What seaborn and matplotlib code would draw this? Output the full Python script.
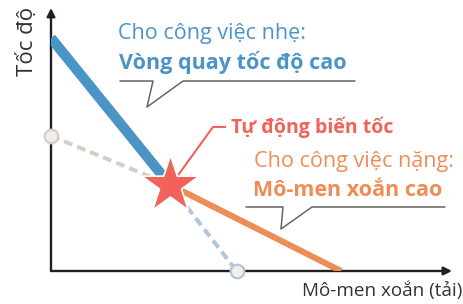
import matplotlib
matplotlib.use("Agg")
import matplotlib.pyplot as plt
import seaborn as sns

# chart data (torque on x, speed on y, arbitrary units)
torque_light = [0.0, 4.1]
speed_light = [10.0, 3.7]
torque_heavy = [4.1, 10.0]
speed_heavy = [3.7, 0.0]
torque_base_speed = [0.0, 4.1]
speed_base_speed = [5.8, 3.7]
torque_base_load = [4.1, 6.4]
speed_base_load = [3.7, 0.0]
circle_x = [0.0, 6.4]
circle_y = [5.8, 0.0]
star_x = [4.1]
star_y = [3.7]

x_label = "Mô-men xoắn (tải)"
y_label = "Tốc độ"
light_title = "Cho công việc nhẹ:"
light_note = "Vòng quay tốc độ cao"
heavy_title = "Cho công việc nặng:"
heavy_note = "Mô-men xoắn cao"
auto_note = "Tự động biến tốc"

BLUE = "#4b94c6"
ORANGE = "#ee8d55"
RED = "#f0625a"
TAN = "#d9ccc3"
LBLUE = "#b0c6da"
DARK = "#231f20"

sns.set_style("white")
plt.rcParams['font.family'] = ['Open Sans', 'DejaVu Sans']

W, H = 464, 304
fig = plt.figure(figsize=(W / 100, H / 100), dpi=100)
# origin at pixel (51, 271), arrows end at (452, 271) and (51, 8)
ax = fig.add_axes([51 / W, (H - 271) / H, (452 - 51) / W, (271 - 8) / H])
XS, YS = 29.0, 23.3  # pixels per data unit
ax.set_xlim(0, (452 - 51) / XS)
ax.set_ylim(0, (271 - 8) / YS)
ax.axis("off")


def px(x, y):
    # pixel position -> data coords (for annotations only)
    return (x - 51) / XS, (271 - y) / YS


# axes with arrows
arr = dict(arrowstyle="-|>", lw=1.7, color=DARK, mutation_scale=12, shrinkA=0, shrinkB=0)
ax.annotate("", xy=(1, 0), xytext=(0, 0), xycoords="axes fraction", arrowprops=arr, annotation_clip=False)
ax.annotate("", xy=(0, 1), xytext=(0, 0), xycoords="axes fraction", arrowprops=arr, annotation_clip=False)

# dashed base lines
sns.lineplot(x=torque_base_speed, y=speed_base_speed, color=TAN, lw=2.9,
             linestyle=(0, (2.2, 1.3)), ax=ax, zorder=2)
sns.lineplot(x=torque_base_load, y=speed_base_load, color=LBLUE, lw=2.9,
             linestyle=(0, (2.2, 1.3)), ax=ax, zorder=2)

# operating curves
sns.lineplot(x=torque_light, y=speed_light, color=BLUE, lw=7.4, ax=ax, zorder=3,
             solid_capstyle="butt")
sns.lineplot(x=torque_heavy, y=speed_heavy, color=ORANGE, lw=4.4, ax=ax, zorder=3,
             solid_capstyle="butt")

# end circles
sns.scatterplot(x=circle_x[:1], y=circle_y[:1], s=95, color="#efefef", edgecolor=TAN,
                linewidth=1.6, ax=ax, zorder=4, clip_on=False)
sns.scatterplot(x=circle_x[1:], y=circle_y[1:], s=95, color="#efefef", edgecolor=LBLUE,
                linewidth=1.6, ax=ax, zorder=4, clip_on=False)

# red connector to label
rx, ry = zip(px(176, 178), px(213, 127), px(226, 127))
ax.plot(rx, ry, color=RED, lw=1.5, zorder=4, solid_capstyle="butt")

# star
sns.scatterplot(x=star_x, y=star_y, marker="*", s=1900, color=RED, edgecolor="white",
                linewidth=1.2, ax=ax, zorder=5)

# callout underlines with pointers
cx, cy = zip(px(120, 81), px(153, 81), px(147, 107), px(183, 81), px(355, 81))
ax.plot(cx, cy, color="#666666", lw=1.1, clip_on=False)
cx, cy = zip(px(246, 207), px(283, 207), px(281, 229), px(312, 207), px(445, 207))
ax.plot(cx, cy, color="#666666", lw=1.1, clip_on=False)

# texts
ax.text(*px(118, 33), light_title, color=BLUE, fontsize=15.5, ha="left", va="center")
ax.text(*px(119, 62), light_note, color=BLUE, fontsize=15.5, fontweight="bold",
        ha="left", va="center")
ax.text(*px(231, 127), auto_note, color=RED, fontsize=14, fontweight="bold",
        ha="left", va="center")
ax.text(*px(254, 161), heavy_title, color=ORANGE, fontsize=15.6, ha="left", va="center")
ax.text(*px(253, 190), heavy_note, color=ORANGE, fontsize=15.5, fontweight="bold",
        ha="left", va="center")
ax.text(*px(302, 291), x_label, color="#333333", fontsize=13.6, ha="left", va="center")
ax.text(*px(27, 41), y_label, color="#333333", fontsize=16, ha="center", va="center",
        rotation=90)

fig.savefig("out.png", dpi=100)
